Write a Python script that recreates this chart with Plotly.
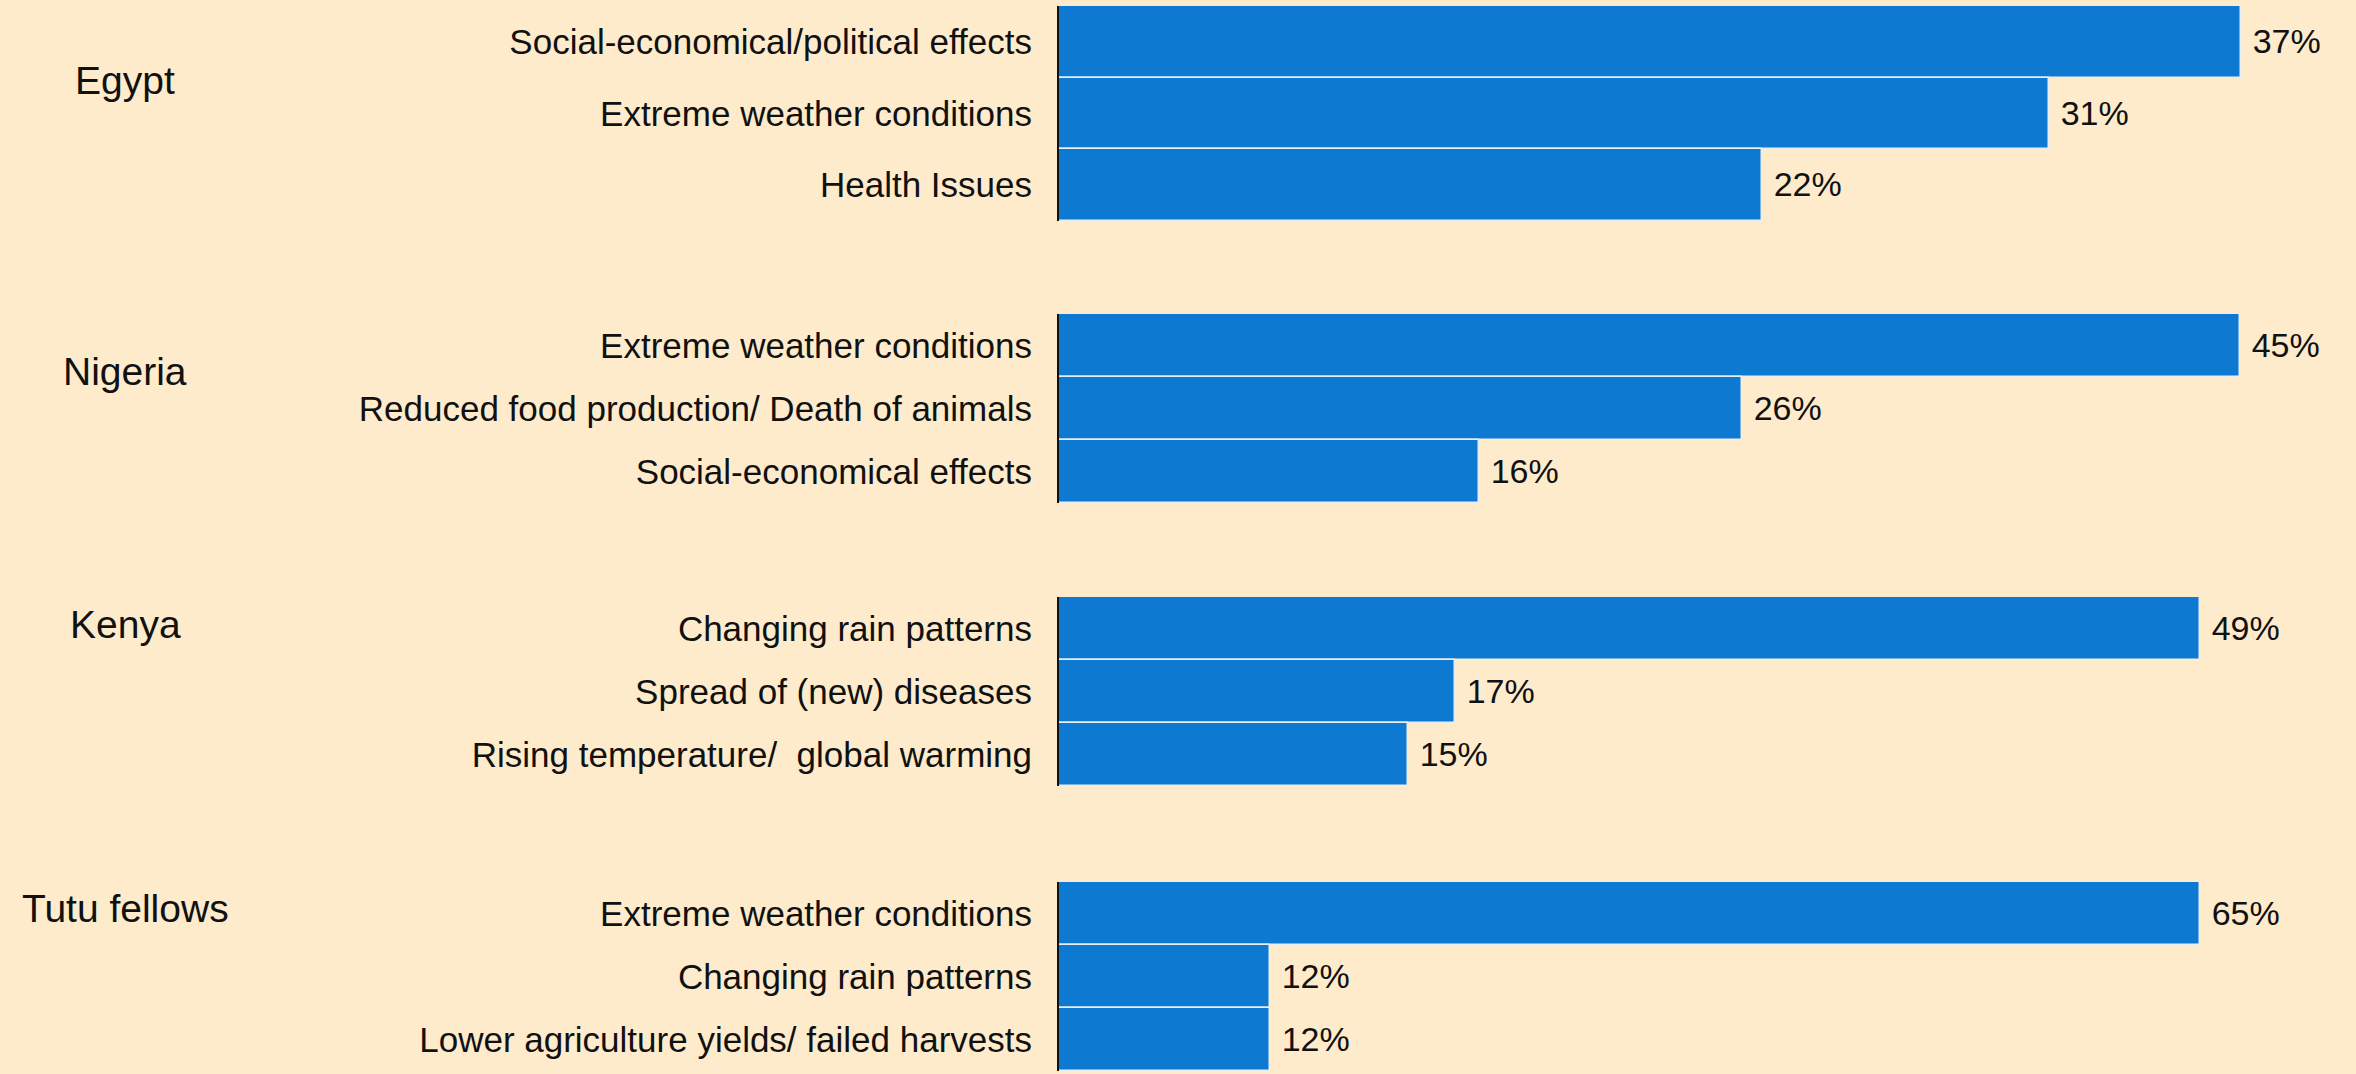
import plotly.graph_objects as go

countries = ["Egypt", "Nigeria", "Kenya", "Tutu fellows"]

egypt_causes = ["Social-economical/political effects", "Extreme weather conditions", "Health Issues"]
egypt_pct = [37, 31, 22]

nigeria_causes = ["Extreme weather conditions", "Reduced food production/ Death of animals", "Social-economical effects"]
nigeria_pct = [45, 26, 16]

kenya_causes = ["Changing rain patterns", "Spread of (new) diseases", "Rising temperature/  global warming"]
kenya_pct = [49, 17, 15]

tutu_causes = ["Extreme weather conditions", "Changing rain patterns", "Lower agriculture yields/ failed harvests"]
tutu_pct = [65, 12, 12]

W, H = 2356, 1074
BG = "#FDEBCC"
BAR = "#0E79D1"
FONT = "Liberation Sans Narrow, Arial Narrow, Liberation Sans, sans-serif"

panels = [
    (egypt_causes, egypt_pct, 40.6, (6, 221), 80),
    (nigeria_causes, nigeria_pct, 49.4, (314, 503), 371),
    (kenya_causes, kenya_pct, 55.7, (597, 786), 624),
    (tutu_causes, tutu_pct, 73.9, (882, 1071), 908),
]

fig = go.Figure()
x0 = 1059 / W
layout = {}
annotations = []
for i, (cats, vals, xmax, (ytop, ybot), ylab) in enumerate(panels):
    n = "" if i == 0 else str(i + 1)
    fig.add_trace(go.Bar(
        x=vals, y=cats, orientation="h",
        xaxis="x" + n, yaxis="y" + n,
        marker=dict(color=BAR, line=dict(color="#E9EEF3", width=1.5)),
        texttemplate=" %{x}%", textposition="outside", cliponaxis=False,
        textfont=dict(family=FONT, size=34, color="#111111"),
        showlegend=False, hoverinfo="skip",
    ))
    layout["xaxis" + n] = dict(domain=[x0, 1], range=[0, xmax], visible=False,
                               anchor="y" + n, fixedrange=True)
    layout["yaxis" + n] = dict(domain=[(H - ybot) / H, (H - ytop) / H],
                               anchor="x" + n, autorange="reversed",
                               showline=True, linecolor="#111111", linewidth=2,
                               showgrid=False, zeroline=False, ticks="",
                               ticklabelstandoff=18, fixedrange=True,
                               tickfont=dict(family=FONT, size=35, color="#111111"))
    annotations.append(dict(text=countries[i], x=125 / W, y=(H - ylab) / H,
                            xref="paper", yref="paper", xanchor="center", yanchor="middle",
                            showarrow=False,
                            font=dict(family=FONT, size=39, color="#111111")))

fig.update_layout(
    width=W, height=H,
    margin=dict(l=0, r=0, t=0, b=0),
    paper_bgcolor=BG, plot_bgcolor=BG,
    bargap=0,
    annotations=annotations,
    **layout,
)

fig.write_html("out.html",
               config={"displayModeBar": False},
               post_script="document.body.style.margin='0';document.body.style.background='#FDEBCC';")
